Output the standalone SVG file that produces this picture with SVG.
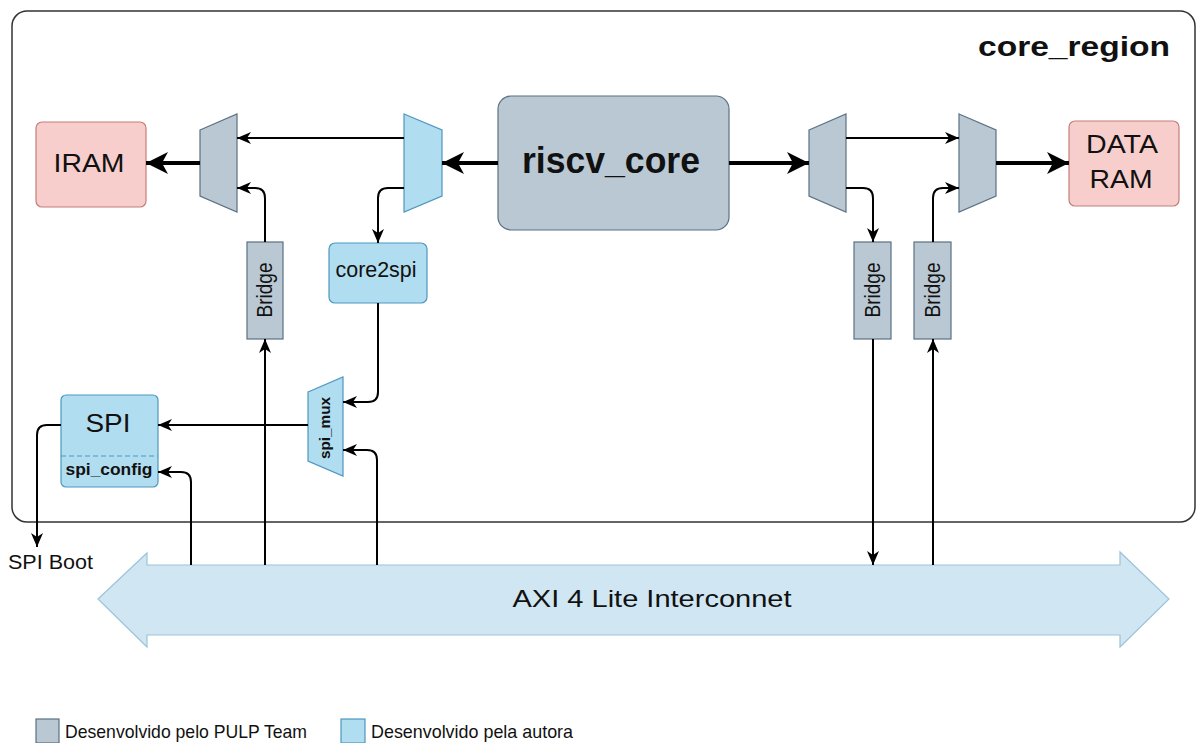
<svg xmlns="http://www.w3.org/2000/svg" width="1197" height="743" viewBox="0 0 1197 743">
  <defs>
    <style>
      .t { font-family: "Liberation Sans", Arial, Helvetica, sans-serif; fill: #111; }
      .b { font-weight: bold; }
      .pulp { fill: #bac8d3; stroke: #5b7184; stroke-width: 1.2; }
      .own { fill: #b1ddf0; stroke: #4e97bf; stroke-width: 1.2; }
      .mem { fill: #f8cecc; stroke: #c47f7b; stroke-width: 1.2; }
      .thin { fill: none; stroke: #000; stroke-width: 2; marker-end: url(#ah); }
      .thick { fill: none; stroke: #000; stroke-width: 4; marker-end: url(#ahBig); }
    </style>
    <marker id="ah" markerUnits="userSpaceOnUse" markerWidth="14" markerHeight="12" refX="14" refY="6" orient="auto">
      <path d="M0,0 L14,6 L0,12 L4,6 Z" fill="#000"/>
    </marker>
    <marker id="ahBig" markerUnits="userSpaceOnUse" markerWidth="22" markerHeight="22" refX="22" refY="11" orient="auto">
      <path d="M0,0 L22,11 L0,22 L6,11 Z" fill="#000"/>
    </marker>
  </defs>

  <rect width="1197" height="743" fill="#fff"/>

  <!-- core_region container -->
  <g id="core_region">
    <rect x="12" y="11" width="1183" height="511" rx="15" ry="15" fill="#fff" stroke="#333" stroke-width="1.5"/>
    <text class="t b" x="978" y="56" font-size="28" textLength="192" lengthAdjust="spacingAndGlyphs">core_region</text>
  </g>

  <!-- AXI interconnect -->
  <g id="axi">
    <path d="M98,599 L147,553 L147,565 L1120,565 L1120,552 L1169,599 L1120,647 L1120,635 L147,635 L147,647 Z" fill="#d0e7f3" stroke="#9cc3d8" stroke-width="1.2"/>
    <text class="t" x="652" y="607" font-size="24" text-anchor="middle" textLength="279" lengthAdjust="spacingAndGlyphs">AXI 4 Lite Interconnet</text>
  </g>

  <!-- memories -->
  <g id="iram">
    <rect class="mem" x="36" y="122" width="110" height="85" rx="6"/>
    <text class="t" x="89" y="172" font-size="25" text-anchor="middle" textLength="71" lengthAdjust="spacingAndGlyphs">IRAM</text>
  </g>
  <g id="data_ram">
    <rect class="mem" x="1069" y="121" width="110" height="85" rx="6"/>
    <text class="t" x="1122" y="153" font-size="25.5" text-anchor="middle" textLength="72" lengthAdjust="spacingAndGlyphs">DATA</text>
    <text class="t" x="1121" y="188" font-size="25.5" text-anchor="middle" textLength="63" lengthAdjust="spacingAndGlyphs">RAM</text>
  </g>

  <!-- core -->
  <g id="riscv_core">
    <rect class="pulp" x="498" y="96" width="231" height="134" rx="13"/>
    <text class="t b" x="611" y="173" font-size="36" text-anchor="middle" textLength="178" lengthAdjust="spacingAndGlyphs">riscv_core</text>
  </g>

  <!-- multiplexers -->
  <g id="mux_iram"><polygon class="pulp" points="200,130 237,114 237,212 200,196"/></g>
  <g id="mux_spi_sel"><polygon class="own" points="404,114 442,130 442,196 404,212"/></g>
  <g id="mux_data_in"><polygon class="pulp" points="809,130 846,114 846,212 809,196"/></g>
  <g id="mux_data_out"><polygon class="pulp" points="959,114 996,130 996,196 959,212"/></g>

  <!-- bridges -->
  <g id="bridge_iram">
    <rect class="pulp" x="247" y="242" width="36" height="97"/>
    <text class="t" transform="translate(272,290) rotate(-90)" font-size="22" text-anchor="middle" textLength="55" lengthAdjust="spacingAndGlyphs">Bridge</text>
  </g>
  <g id="bridge_data_out">
    <rect class="pulp" x="854" y="242" width="37" height="97"/>
    <text class="t" transform="translate(880,290) rotate(-90)" font-size="22" text-anchor="middle" textLength="55" lengthAdjust="spacingAndGlyphs">Bridge</text>
  </g>
  <g id="bridge_data_in">
    <rect class="pulp" x="914" y="242" width="37" height="97"/>
    <text class="t" transform="translate(940,290) rotate(-90)" font-size="22" text-anchor="middle" textLength="55" lengthAdjust="spacingAndGlyphs">Bridge</text>
  </g>

  <!-- SPI path -->
  <g id="core2spi">
    <rect class="own" x="329" y="243" width="98" height="60" rx="6"/>
    <text class="t" x="376" y="277" font-size="22" text-anchor="middle" textLength="81" lengthAdjust="spacingAndGlyphs">core2spi</text>
  </g>
  <g id="spi_mux">
    <polygon class="own" points="308,392 343,377 343,476 308,461"/>
    <text class="t b" transform="translate(330,428) rotate(-90)" font-size="14" text-anchor="middle" textLength="62" lengthAdjust="spacingAndGlyphs">spi_mux</text>
  </g>
  <g id="spi">
    <rect class="own" x="61" y="395" width="97" height="92" rx="5"/>
    <line x1="61" y1="456" x2="158" y2="456" stroke="#4e97bf" stroke-width="1.2" stroke-dasharray="5,3"/>
    <text class="t" x="108" y="432" font-size="26" text-anchor="middle" textLength="45" lengthAdjust="spacingAndGlyphs">SPI</text>
    <text class="t b" x="109" y="475" font-size="16" text-anchor="middle" textLength="87" lengthAdjust="spacingAndGlyphs">spi_config</text>
  </g>

  <g id="spi_boot_label">
    <text class="t" x="8" y="569" font-size="20" textLength="85" lengthAdjust="spacingAndGlyphs">SPI Boot</text>
  </g>

  <!-- connectors -->
  <g id="connectors">
    <path class="thick" d="M498,163 H442"/>
    <path class="thick" d="M200,163 H146"/>
    <path class="thin" d="M404,138 H237"/>
    <path class="thin" d="M265,242 V198 Q265,188 255,188 H237"/>
    <path class="thin" d="M404,188 H388 Q378,188 378,198 V243"/>
    <path class="thin" d="M378,303 V392 Q378,402 368,402 H343"/>
    <path class="thin" d="M308,425 H158"/>
    <path class="thin" d="M377,565 V460 Q377,450 367,450 H343"/>
    <path class="thin" d="M191,565 V482 Q191,472 181,472 H158"/>
    <path class="thin" d="M265,565 V339"/>
    <path class="thin" d="M61,425 H47 Q37,425 37,435 V547"/>
    <path class="thick" d="M729,163 H809"/>
    <path class="thin" d="M846,138 H959"/>
    <path class="thick" d="M996,163 H1069"/>
    <path class="thin" d="M846,188 H863 Q873,188 873,198 V242"/>
    <path class="thin" d="M933,242 V198 Q933,188 943,188 H959"/>
    <path class="thin" d="M873,339 V565"/>
    <path class="thin" d="M933,565 V339"/>
  </g>

  <!-- legend -->
  <g id="legend">
    <rect class="pulp" x="36" y="719" width="23" height="24"/>
    <text class="t" x="65" y="738" font-size="19" textLength="242" lengthAdjust="spacingAndGlyphs">Desenvolvido pelo PULP Team</text>
    <rect class="own" x="341" y="719" width="24" height="24"/>
    <text class="t" x="371" y="738" font-size="19" textLength="202" lengthAdjust="spacingAndGlyphs">Desenvolvido pela autora</text>
  </g>
</svg>
